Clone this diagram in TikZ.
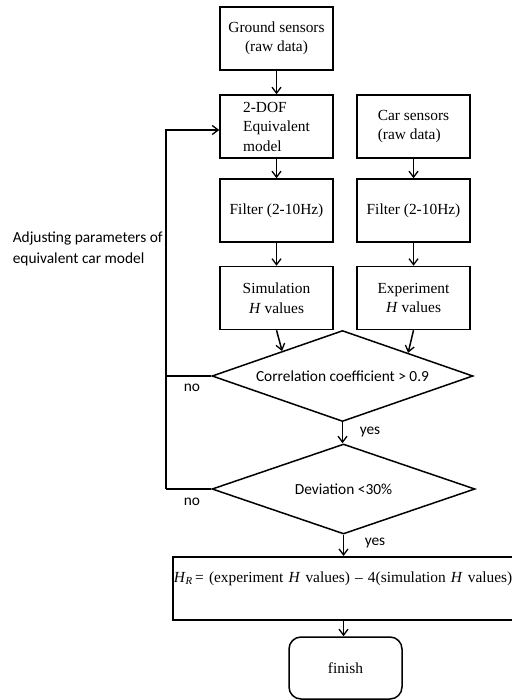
\documentclass[tikz,border=0pt]{standalone}
\usepackage{fontspec}
\setmainfont{Liberation Serif}
\newfontfamily\calibri{Carlito}
\usetikzlibrary{positioning}
\usetikzlibrary{shapes, arrows.meta, calc}

\begin{document}
\begin{tikzpicture}[x=1pt, y=-1pt, line width=1.5pt, line join=miter, node distance = 88pt, auto]
    \tikzstyle{block} = [rectangle, draw, minimum width=113pt, minimum height=63pt,
    inner sep=0pt, font=\fontsize{15.4}{19.5}\selectfont, align=center]
    \tikzstyle{decision} = [diamond, draw, aspect=2.87, inner sep=0pt,
    font=\calibri\fontsize{15.4}{19.5}\selectfont]
    \tikzstyle{label} = [font=\calibri\fontsize{15.4}{21}\selectfont, inner sep=0pt]
    \tikzstyle{line} = [draw, -{Straight Barb[length=6pt, width=9pt, line width=1.3pt]}]
    \useasboundingbox (0,0) rectangle (511,700);
    \node [block] at (276.5,38.5) (ground) {Ground sensors\\(raw data)};
    \node [block, below of=ground, align=left] (dof) {2-DOF\\Equivalent\\model};
    \node [block, right of=dof, node distance=137pt, align=left] (car) {Car sensors\\(raw data)};
    \node [block, below of=dof, node distance=84pt] (filt1) {Filter (2-10Hz)};
    \node [block, below of=car, node distance=84pt] (filt2) {Filter (2-10Hz)};
    \node [block, below of=filt1, node distance=87.5pt] (sim) {Simulation\\\textit{H} values};
    \node [block, below of=filt2, node distance=87.5pt] (exp) {Experiment\\\textit{H} values};
    \node [decision, minimum width=261pt, minimum height=91pt] at (342.5,376) (corr)
        {Correlation coefficient > 0.9};
    \node [decision, minimum width=263pt, minimum height=90pt, below of=corr,
        node distance=113pt, xshift=1pt] (dev) {Deviation <30\%};
    \node [block, anchor=north west, minimum width=348pt, text width=346pt, align=left,
        text height=26pt, text depth=37pt, inner xsep=1pt] at (172,556) (hr)
        {\textit{H}\textsubscript{\textit{R}}\,= (experiment \textit{H} values) -- 4(simulation \textit{H} values)};
    \node [block, rounded corners=12pt, minimum height=62pt] at (345.5,668) (finish) {finish};
    \node [label, anchor=west, align=left] at (12,248.5) (adjust)
        {Adjusting parameters of\\equivalent car model};
    \coordinate (loopa) at (166,376);
    \coordinate (loopb) at (166,489);
    \coordinate (looptop) at (166,130);
    \node [label] at (192,388) (no1) {no};
    \node [label] at (192,502) (no2) {no};
    \node [label] at (370,432) (yes1) {yes};
    \node [label] at (375,543) (yes2) {yes};
    \path [line] (ground) -- (dof);
    \path [line] (dof) -- (filt1);
    \path [line] (car) -- (filt2);
    \path [line] (filt1) -- (sim);
    \path [line] (filt2) -- (exp);
    \path [line] (sim.south) -- ($(corr.west)!0.54!(corr.north)$);
    \path [line] (exp.south) -- ($(corr.east)!0.5!(corr.north)$);
    \path [line] (corr.south) -- (dev.north -| corr.south);
    \path [line] (dev.south) -- (hr.north -| dev.south);
    \path [line] (hr.south -| dev.south) -- (finish.north -| dev.south);
    \draw (corr.west) -- (loopa);
    \draw (dev.west) -- (loopb);
    \path [line] (loopb) -- (looptop) -- (looptop -| dof.west);
\end{tikzpicture}
\end{document}
